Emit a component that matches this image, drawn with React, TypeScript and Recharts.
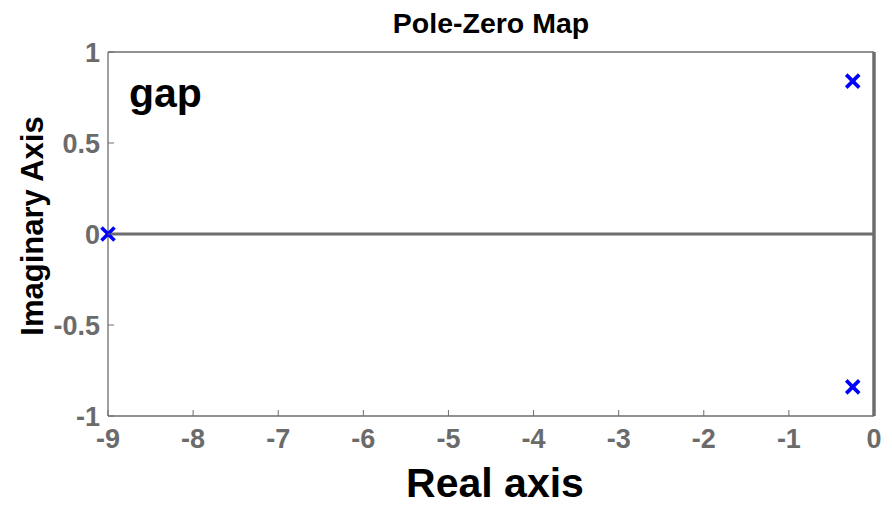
import React from "react";
import {
  ScatterChart,
  Scatter,
  XAxis,
  YAxis,
  ReferenceLine,
  Customized,
} from "recharts";

// Pole locations of the system (real and imaginary parts)
const poleRe = [-9, -0.25, -0.25];
const poleIm = [0, 0.84, -0.84];

// Axis ticks
const realTicks = [-9, -8, -7, -6, -5, -4, -3, -2, -1, 0];
const imagTicks = [-1, -0.5, 0, 0.5, 1];

const realDomain: [number, number] = [-9, 0];
const imagDomain: [number, number] = [-1, 1];

const chartTitle = "Pole-Zero Map";
const realLabel = "Real axis";
const imagLabel = "Imaginary Axis";
const noteText = "gap";

const poles = poleRe.map((re, i) => ({ re, im: poleIm[i] }));

const FONT = "'Liberation Sans', Arial, Helvetica, sans-serif";
const FRAME = "#6e6e6e";
const TICK_TEXT = "#6b6b6b";
const MARKER = "#0000ff";
const TICK_LEN = 6;
const X_GAP = 13;
const Y_GAP = 8;
const TICK_FONT = 27;

const W = 892;
const H = 507;
const PLOT = { left: 108, right: 874, top: 52, bottom: 416 };
const X_AXIS_H = 30;
const Y_AXIS_W = 60;
const MARGIN = {
  top: PLOT.top - 1,
  right: W - PLOT.right - 1,
  bottom: H - PLOT.bottom - X_AXIS_H,
  left: PLOT.left - Y_AXIS_W,
};

const fmt = (v: number) => String(v);

function BottomTick(props: any) {
  const { x, y, payload } = props;
  const axisY = y - X_GAP;
  return (
    <g>
      <line x1={x} x2={x} y1={axisY} y2={axisY - TICK_LEN} stroke={FRAME} strokeWidth={1} />
      <text
        x={x}
        y={y}
        dy="0.72em"
        textAnchor="middle"
        fill={TICK_TEXT}
        fontFamily={FONT}
        fontWeight="bold"
        fontSize={TICK_FONT}
      >
        {fmt(payload.value)}
      </text>
    </g>
  );
}

function TopTick(props: any) {
  const { x, y } = props;
  return <line x1={x} x2={x} y1={y} y2={y + TICK_LEN} stroke={FRAME} strokeWidth={1} />;
}

function LeftTick(props: any) {
  const { x, y, payload } = props;
  const axisX = x + Y_GAP;
  return (
    <g>
      <line x1={axisX} x2={axisX + TICK_LEN} y1={y} y2={y} stroke={FRAME} strokeWidth={1} />
      <text
        x={x}
        y={y}
        dy="0.36em"
        textAnchor="end"
        fill={TICK_TEXT}
        fontFamily={FONT}
        fontWeight="bold"
        fontSize={TICK_FONT}
      >
        {fmt(payload.value)}
      </text>
    </g>
  );
}

function RightTick(props: any) {
  const { x, y } = props;
  return <line x1={x} x2={x - TICK_LEN} y1={y} y2={y} stroke={FRAME} strokeWidth={1} />;
}

function Cross(props: any) {
  const { cx, cy } = props;
  if (cx == null || cy == null) return null;
  const r = 6.5;
  return (
    <g stroke={MARKER} strokeWidth={3.6} strokeLinecap="butt">
      <line x1={cx - r} y1={cy - r} x2={cx + r} y2={cy + r} />
      <line x1={cx - r} y1={cy + r} x2={cx + r} y2={cy - r} />
    </g>
  );
}

function Annotations() {
  const cxPlot = (PLOT.left + PLOT.right) / 2;
  const cyPlot = (PLOT.top + PLOT.bottom) / 2;
  return (
    <g fontFamily={FONT} fontWeight="bold" fill="#000">
      <text x={cxPlot} y={33} textAnchor="middle" fontSize={28.5}>
        {chartTitle}
      </text>
      <text x={cxPlot + 4} y={497} textAnchor="middle" fontSize={41}>
        {realLabel}
      </text>
      <text
        x={43}
        y={cyPlot - 8}
        textAnchor="middle"
        fontSize={31}
        transform={`rotate(-90 43 ${cyPlot - 8})`}
      >
        {imagLabel}
      </text>
      <text x={129} y={107} textAnchor="start" fontSize={41}>
        {noteText}
      </text>
    </g>
  );
}

export default function App() {
  return (
    <div style={{ position: "absolute", left: 0, top: 0, width: W, height: H, background: "#fff" }}>
      <ScatterChart width={W} height={H} margin={MARGIN}>
        <XAxis
          xAxisId="real"
          dataKey="re"
          type="number"
          domain={realDomain}
          ticks={realTicks}
          height={X_AXIS_H}
          tickSize={0}
          tickMargin={X_GAP}
          tickLine={false}
          axisLine={{ stroke: FRAME, strokeWidth: 1.3 }}
          tick={<BottomTick />}
          interval={0}
        />
        <XAxis
          xAxisId="top"
          orientation="top"
          type="number"
          domain={realDomain}
          ticks={realTicks}
          height={1}
          tickSize={0}
          tickMargin={0}
          tickLine={false}
          axisLine={{ stroke: FRAME, strokeWidth: 1.3 }}
          tick={<TopTick />}
          interval={0}
        />
        <YAxis
          yAxisId="imag"
          dataKey="im"
          type="number"
          domain={imagDomain}
          ticks={imagTicks}
          width={Y_AXIS_W}
          tickSize={0}
          tickMargin={Y_GAP}
          tickLine={false}
          axisLine={{ stroke: FRAME, strokeWidth: 1.3 }}
          tick={<LeftTick />}
          interval={0}
        />
        <YAxis
          yAxisId="right"
          orientation="right"
          type="number"
          domain={imagDomain}
          ticks={imagTicks}
          width={1}
          tickSize={0}
          tickMargin={0}
          tickLine={false}
          axisLine={{ stroke: FRAME, strokeWidth: 1.3 }}
          tick={<RightTick />}
          interval={0}
        />
        <ReferenceLine xAxisId="real" yAxisId="imag" y={0} stroke={FRAME} strokeWidth={3} />
        <ReferenceLine xAxisId="real" yAxisId="imag" x={0} stroke={FRAME} strokeWidth={3.5} />
        <Scatter
          xAxisId="real"
          yAxisId="imag"
          data={poles}
          shape={<Cross />}
          isAnimationActive={false}
        />
        <Customized component={Annotations} />
      </ScatterChart>
    </div>
  );
}
